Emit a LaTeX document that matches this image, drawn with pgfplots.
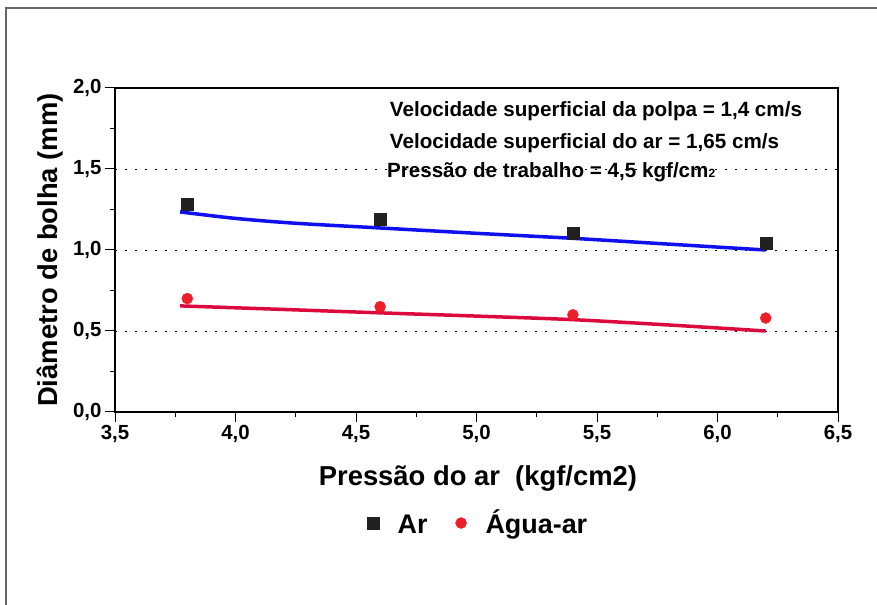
\documentclass[border=0pt]{standalone}
\usepackage{fontspec}
\setmainfont{Liberation Sans}
\usepackage{pgfplots}
\pgfplotsset{compat=1.18}
\definecolor{myblue}{RGB}{15,15,240}
\definecolor{myred}{RGB}{220,10,60}
\definecolor{ptred}{RGB}{236,30,40}
\definecolor{sqgray}{RGB}{35,32,33}
\begin{document}
\begin{tikzpicture}
\path[use as bounding box] (0,0) rectangle (877bp,605bp);
\draw[black!60, line width=1.2bp] (6bp,0) -- (6bp,597bp) -- (877bp,597bp);
\begin{axis}[
  at={(115bp,193bp)}, anchor=south west, scale only axis,
  width=723bp, height=324bp,
  xmin=3.5, xmax=6.5, ymin=0, ymax=2,
  xtick={3.5,4,4.5,5,5.5,6,6.5}, ytick={0,0.5,1,1.5,2},
  minor x tick num=1, minor y tick num=1,
  tick align=outside, tick pos=left,
  major tick length=10bp, minor tick length=5bp,
  ymajorgrids, grid style={black, dash pattern=on 2bp off 8bp, line width=0.8bp},
  axis line style={line width=1.5bp},
  every tick/.style={black, line width=1bp},
  /pgf/number format/.cd, fixed, fixed zerofill, precision=1, use comma, assume math mode=true,
  /pgfplots/.cd,
  tick label style={font=\fontsize{20.5}{20.5}\selectfont\bfseries},
  xlabel={Pressão do ar\ \ (kgf/cm2)},
  ylabel={Diâmetro de bolha (mm)},
  label style={font=\fontsize{27.5}{27.5}\selectfont\bfseries},
  xlabel style={at={(axis description cs:0.502,-0.204)}, anchor=center},
  ylabel style={at={(axis description cs:-0.09,0.5)}, anchor=center},
  legend style={at={(axis description cs:0.502,-0.355)}, anchor=center, draw=none,
    font=\fontsize{27}{27}\selectfont\bfseries, legend columns=2,
    nodes={text height=19bp, text depth=6bp},
    /tikz/every odd column/.append style={column sep=17bp},
    /tikz/every even column/.append style={column sep=26bp}},
  legend image post style={yshift=4bp},
  legend cell align=left,
]
\addplot[myblue, line width=3.5bp, smooth, forget plot] coordinates {
 (3.77,1.235) (4.0,1.195) (4.25,1.165) (4.6,1.136) (5.0,1.103) (5.4,1.072) (5.8,1.036) (6.2,1.0)};
\addplot[myred, line width=3.5bp, smooth, forget plot] coordinates {
 (3.77,0.655) (4.2,0.633) (4.6,0.612) (5.0,0.592) (5.4,0.570) (5.8,0.537) (6.2,0.50)};
\addplot[only marks, mark=square*, mark size=6bp, color=sqgray] coordinates {
 (3.8,1.284) (4.6,1.19) (5.4,1.105) (6.2,1.04)};
\addlegendentry{Ar}
\addplot[only marks, mark=*, mark size=5.5bp, color=ptred] coordinates {
 (3.8,0.70) (4.6,0.65) (5.4,0.60) (6.2,0.58)};
\addlegendentry{Água-ar}
\node[anchor=west, font=\fontsize{20.7}{20.7}\selectfont\bfseries, inner sep=0pt] at (axis description cs:0.380,0.929) {Velocidade superficial da polpa = 1,4 cm/s};
\node[anchor=west, font=\fontsize{20.7}{20.7}\selectfont\bfseries, inner sep=0pt] at (axis description cs:0.380,0.830) {Velocidade superficial do ar = 1,65 cm/s};
\node[anchor=west, font=\fontsize{20.7}{20.7}\selectfont\bfseries, inner sep=0pt] at (axis description cs:0.376,0.741) {Pressão de trabalho = 4,5 kgf/cm{\fontsize{12}{12}\selectfont 2}};
\end{axis}
\end{tikzpicture}
\end{document}
